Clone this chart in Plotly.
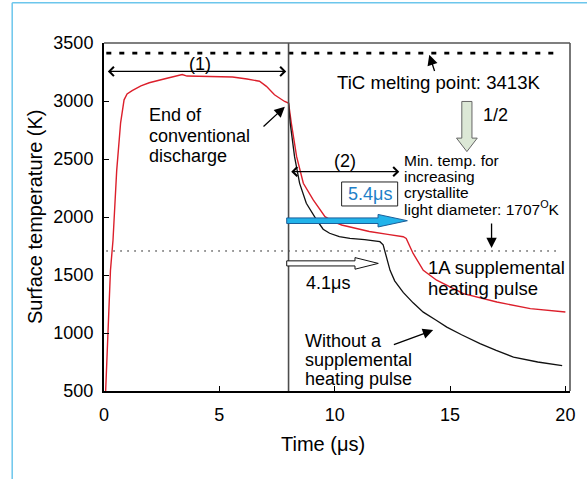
import plotly.graph_objects as go

# ---------------- data ----------------
red_t = [0.05, 0.28, 0.39, 0.55, 0.72, 0.87, 1.0, 1.22, 1.6, 1.96, 2.6, 3.26, 3.39, 3.6, 4.5,
         5.57, 6.2, 6.74, 7.04, 7.39, 7.83, 8.0, 8.12, 8.35, 8.64, 9.07, 9.58, 9.9, 10.3, 10.9,
         11.5, 12.3, 12.97, 13.1, 13.26, 13.4, 13.84, 14.42, 15.58, 17.03, 18.48, 20.0]
red_T = [390, 1540, 1800, 2400, 2812, 3010, 3060, 3090, 3130, 3157, 3190, 3218, 3228, 3215, 3213,
         3207, 3190, 3170, 3126, 3054, 2996, 2982, 2810, 2520, 2291, 2147, 2003, 1965, 1931, 1900,
         1875, 1850, 1830, 1815, 1743, 1686, 1541, 1455, 1340, 1267, 1210, 1181]

black_t = [8.0, 8.07, 8.26, 8.48, 8.77, 9.0, 9.2, 9.5, 9.78, 10.2, 10.66, 11.3, 11.96, 12.1,
           12.25, 12.4, 12.6, 12.97, 13.4, 13.84, 14.4, 14.86, 15.5, 16.3, 17.0, 17.75, 18.8, 19.86]
black_T = [2982, 2812, 2520, 2290, 2118, 2040, 1980, 1895, 1860, 1830, 1816, 1805, 1787, 1760,
           1660, 1540, 1450, 1350, 1260, 1180, 1110, 1051, 985, 908, 850, 792, 750, 718]

x_ticks = [0, 5, 10, 15, 20]
y_ticks = [500, 1000, 1500, 2000, 2500, 3000, 3500]
melting_T = 3413
min_T = 1707
end_discharge_t = 8

FONT = "Arial, Liberation Sans, Helvetica, sans-serif"

fig = go.Figure()
fig.add_trace(go.Scatter(x=red_t, y=red_T, mode="lines",
                         line=dict(color="#dc1f2b", width=1.4), showlegend=False))
fig.add_trace(go.Scatter(x=black_t, y=black_T, mode="lines",
                         line=dict(color="#111111", width=1.3), showlegend=False))

shapes = []
# melting point dashed line
shapes.append(dict(type="line", xref="x", yref="y", x0=0.1, x1=19.6, y0=melting_T, y1=melting_T,
                   line=dict(color="black", width=2.6, dash="5px,8px")))
# min temp dotted line
shapes.append(dict(type="line", xref="x", yref="y", x0=0.1, x1=19.8, y0=min_T, y1=min_T,
                   line=dict(color="black", width=1, dash="1.5px,5.5px")))
# vertical line end of discharge
shapes.append(dict(type="line", xref="x", yref="y", x0=end_discharge_t, x1=end_discharge_t,
                   y0=500, y1=3500, line=dict(color="#4d4d4d", width=1.6)))
# top and right frame (gray)
shapes.append(dict(type="line", xref="paper", yref="paper", x0=0, x1=1, y0=1, y1=1,
                   line=dict(color="#555555", width=1.6)))
shapes.append(dict(type="line", xref="paper", yref="paper", x0=1, x1=1, y0=0, y1=1,
                   line=dict(color="#555555", width=1.6)))
# outer light-blue frame
shapes.append(dict(type="line", xref="paper", yref="paper", x0=-0.197, x1=-0.197, y0=-0.3, y1=1.116,
                   line=dict(color="#6cc6ec", width=1.5)))
shapes.append(dict(type="line", xref="paper", yref="paper", x0=-0.197, x1=1.1, y0=1.116, y1=1.116,
                   line=dict(color="#6cc6ec", width=1.5)))

# block arrows (path in data coordinates)
def hblock(x0, xh, xt, yc, hs, hh):
    return (f"M{x0},{yc-hs} L{xh},{yc-hs} L{xh},{yc-hh} L{xt},{yc} L{xh},{yc+hh} "
            f"L{xh},{yc+hs} L{x0},{yc+hs} Z")

def vblock(xc, y0, yh, yt, ws, wh):
    return (f"M{xc-ws},{y0} L{xc-ws},{yh} L{xc-wh},{yh} L{xc},{yt} L{xc+wh},{yh} "
            f"L{xc+ws},{yh} L{xc+ws},{y0} Z")

# blue 5.4 us arrow
shapes.append(dict(type="path", xref="x", yref="y", path=hblock(7.92, 11.88, 13.15, 1968, 24, 54),
                   fillcolor="#22b3ea", line=dict(color="#1a5f9a", width=1)))
# hollow 4.1 us arrow
shapes.append(dict(type="path", xref="x", yref="y", path=hblock(7.92, 10.88, 11.89, 1600, 22, 50),
                   fillcolor="white", line=dict(color="#111111", width=1)))
# green 1/2 arrow
shapes.append(dict(type="path", xref="x", yref="y", path=vblock(15.73, 2996, 2680, 2564, 0.22, 0.45),
                   fillcolor="#dce8d6", line=dict(color="#666666", width=1)))
# 5.4us box
shapes.append(dict(type="rect", xref="x", yref="y", x0=10.3, x1=12.73, y0=2095, y1=2302,
                   fillcolor="white", line=dict(color="#222222", width=1)))

ann = []

def txt(x, y, s, size=18, color="black", xanchor="left"):
    ann.append(dict(x=x, y=y, xref="x", yref="y", text=s, showarrow=False, xanchor=xanchor,
                    yanchor="middle", borderpad=0, borderwidth=0,
                    font=dict(family=FONT, size=size, color=color)))

def arrow(x, y, ax, ay, head=2, size=1.6, width=1.3, both=False):
    d = dict(x=x, y=y, ax=ax, ay=ay, xref="x", yref="y", axref="x", ayref="y", text="",
             showarrow=True, arrowhead=head, arrowsize=size, arrowwidth=width, arrowcolor="black")
    if both:
        d.update(arrowside="end+start", startarrowhead=head, startarrowsize=size)
    ann.append(d)

# double arrows
arrow(7.9, 3255, 0.1, 3255, head=4, size=1.5, width=1.2, both=True)
txt(4.16, 3321, "(1)", xanchor="center")
arrow(12.8, 2391, 8.05, 2391, head=4, size=1.5, width=1.2, both=True)
txt(10.45, 2479, "(2)", xanchor="center")

# End of conventional discharge
txt(1.95, 2880, "End of")
txt(1.95, 2698, "conventional")
txt(1.95, 2528, "discharge")
arrow(7.84, 2950, 6.85, 2769)

# melting point
txt(10.1, 3160, "TiC melting point: 3413K", size=18.6)
arrow(14.1, 3399, 14.35, 3246)
txt(16.45, 2881, "1/2")

# min temp
txt(13.0, 2484, "Min. temp. for", size=15.5)
txt(13.0, 2346, "increasing", size=15.5)
txt(13.0, 2207, "crystallite", size=15.5)
txt(13.0, 2074, "light diameter: 1707<sup>O</sup>K", size=15.5)
arrow(16.8, 1732, 16.8, 1957)

txt(11.52, 2199, "5.4μs", color="#1e7fc8", xanchor="center")
txt(8.75, 1434, "4.1μs")

txt(14.05, 1568, "1A supplemental", size=18.5)
txt(14.05, 1382, "heating pulse", size=18.5)

txt(8.72, 934, "Without a")
txt(8.72, 770, "supplemental")
txt(8.72, 606, "heating pulse")
arrow(14.27, 1025, 12.5, 895)

# axis titles
ann.append(dict(x=0.47, y=-0.153, xref="paper", yref="paper", text="Time (μs)", showarrow=False,
                xanchor="center", yanchor="middle", font=dict(family=FONT, size=20, color="black")))
ann.append(dict(x=-0.148, y=0.5, xref="paper", yref="paper", text="Surface temperature (K)",
                showarrow=False, textangle=-90, xanchor="center", yanchor="middle",
                font=dict(family=FONT, size=20, color="black")))

fig.update_layout(
    width=587, height=479,
    margin=dict(l=104, r=17, t=43, b=88),
    paper_bgcolor="white", plot_bgcolor="white",
    shapes=shapes, annotations=ann,
    xaxis=dict(range=[0, 20.2], tickvals=x_ticks, ticks="inside", ticklen=5, tickwidth=1,
               tickcolor="black", showline=True, linecolor="black", linewidth=2,
               showgrid=False, zeroline=False, ticklabelstandoff=6,
               tickfont=dict(family=FONT, size=18, color="black")),
    yaxis=dict(range=[500, 3500], tickvals=y_ticks, ticks="inside", ticklen=5, tickwidth=1,
               tickcolor="black", showline=True, linecolor="black", linewidth=2,
               showgrid=False, zeroline=False, ticklabelstandoff=5,
               tickfont=dict(family=FONT, size=18, color="black")),
)

fig.write_html("out.html")
